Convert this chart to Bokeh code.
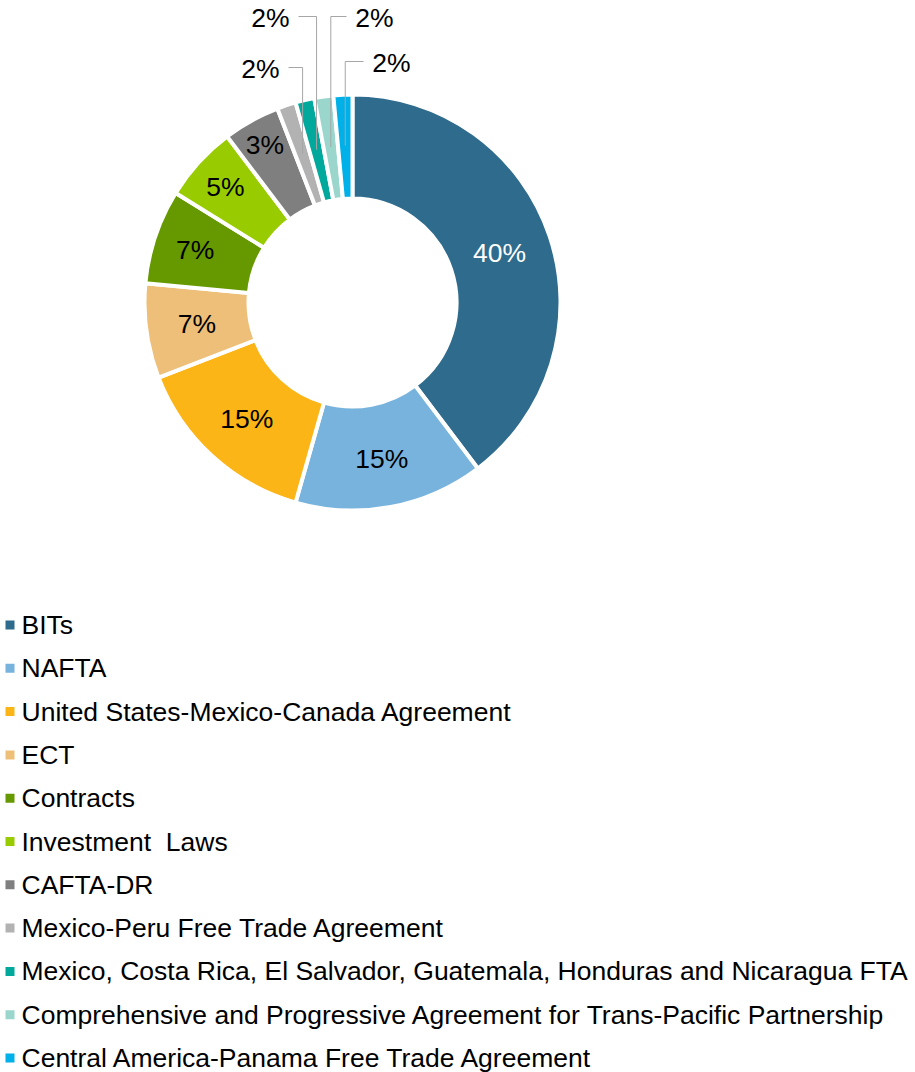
import numpy as np
from bokeh.plotting import figure
from bokeh.models import Range1d, ColumnDataSource
from bokeh.core.properties import value
from bokeh.embed import file_html
from bokeh.resources import INLINE

# ---------------- data ----------------
categories = [
    "BITs",
    "NAFTA",
    "United States-Mexico-Canada Agreement",
    "ECT",
    "Contracts",
    "Investment\u00a0 Laws",
    "CAFTA-DR",
    "Mexico-Peru Free Trade Agreement",
    "Mexico, Costa Rica, El Salvador, Guatemala, Honduras and Nicaragua FTA",
    "Comprehensive and Progressive Agreement for Trans-Pacific Partnership",
    "Central America-Panama Free Trade Agreement",
]
values = [27, 10, 10, 5, 5, 4, 3, 1, 1, 1, 1]
pct_labels = ["40%", "15%", "15%", "7%", "7%", "5%", "3%", "2%", "2%", "2%", "2%"]
colors = ["#2E6B8C", "#77B3DC", "#FBB516", "#EEBF78", "#669900", "#99CC00",
          "#7F7F7F", "#B2B2B2", "#00A99B", "#9BD6CD", "#00B0E8"]

# ---------------- layout ----------------
W, H = 915, 1072
FONT = value("Liberation Sans")
FS = "26.5px"


def sy(y):
    return H - y


cx, cy = 352, sy(302)
R_OUT, R_IN = 208, 104

p = figure(width=W, height=H, x_range=Range1d(0, W), y_range=Range1d(0, H),
           output_backend="svg", toolbar_location=None, min_border=0,
           outline_line_color=None, background_fill_color="white",
           border_fill_color="white")
p.axis.visible = False
p.grid.visible = False

vals = np.array(values, dtype=float)
fr = vals / vals.sum()
cum_end = np.cumsum(fr)
cum_start = cum_end - fr
start = np.pi / 2 - 2 * np.pi * cum_start
end = np.pi / 2 - 2 * np.pi * cum_end
mid = np.pi / 2 - 2 * np.pi * (cum_start + fr / 2)

src = ColumnDataSource(dict(x=[cx] * len(vals), y=[cy] * len(vals),
                            start=start, end=end, color=colors))
p.annular_wedge(x="x", y="y", inner_radius=R_IN, outer_radius=R_OUT,
                start_angle="start", end_angle="end", direction="clock",
                fill_color="color", line_color="white", line_width=4, source=src)

# inside labels
label_r = [155, 159, 157, 157, 166, 172, 180]
n_in = len(label_r)
lx = [cx + label_r[i] * np.cos(mid[i]) for i in range(n_in)]
ly = [cy + label_r[i] * np.sin(mid[i]) for i in range(n_in)]
lcol = ["white"] + ["black"] * (n_in - 1)
p.text(x=lx, y=ly, text=pct_labels[:n_in], text_color=lcol,
       text_align="center", text_baseline="middle",
       text_font=FONT, text_font_size=FS)

# outside labels with leader lines
out_off = [(-92, -234), (-82, -285), (22, -285), (39, -240)]
ox, oy, xs, ys = [], [], [], []
for k, (dx, dy) in enumerate(out_off):
    i = n_in + k
    tx, ty = cx + dx, cy - dy
    ox.append(tx)
    oy.append(ty)
    ax = cx + 157 * np.cos(mid[i])
    ay = cy + 157 * np.sin(mid[i])
    edge = tx + 28 if dx < 0 else tx - 28
    xs.append([edge, ax, ax])
    ys.append([ty + 1, ty + 1, ay])
p.multi_line(xs=xs, ys=ys, line_color="#A6A6A6", line_width=1)
p.text(x=ox, y=oy, text=pct_labels[n_in:], text_color="black",
       text_align="center", text_baseline="middle",
       text_font=FONT, text_font_size=FS)

# legend
row_y = [sy(624.5 + 43.3 * i) for i in range(len(categories))]
p.scatter(x=[9.5] * len(categories), y=row_y, marker="square", size=9,
          fill_color=colors, line_color=None)
p.text(x=[21] * len(categories), y=row_y, text=categories, text_color="black",
       text_align="left", text_baseline="middle",
       text_font=FONT, text_font_size=FS)

open("out.html", "w").write(file_html(p, INLINE))
